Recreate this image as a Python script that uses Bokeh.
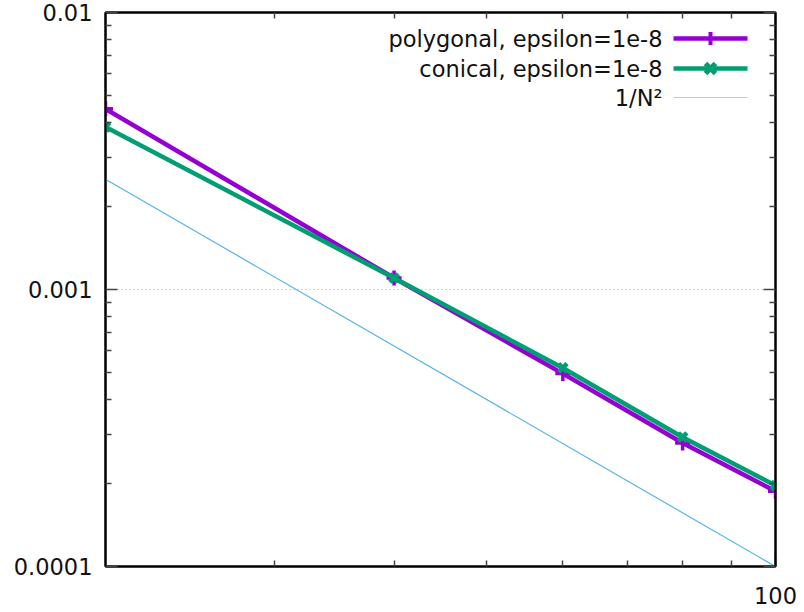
from bokeh.plotting import figure
from bokeh.models import (FixedTicker, LogAxis, Label, BoxAnnotation, PolyAnnotation, Range1d)
from bokeh.embed import file_html
from bokeh.resources import INLINE

# ---- data ----
N = [20, 40, 60, 80, 100]
polygonal = [0.00449, 0.00110, 0.000497, 0.000279, 0.000187]
conical = [0.00386, 0.00110, 0.000521, 0.000293, 0.000196]
ref_N = [20, 100]
ref_val = [1.0 / (n * n) for n in ref_N]

series_labels = ["polygonal, epsilon=1e-8", "conical, epsilon=1e-8", "1/N²"]
series_colors = ["#9400D3", "#009E73", "#56B4E9"]

x_major = [100]
x_minor = [30, 40, 50, 60, 70, 80, 90]
x_labels = ["100"]
y_major = [0.0001, 0.001, 0.01]
y_minor = [2e-4, 3e-4, 4e-4, 5e-4, 6e-4, 7e-4, 8e-4, 9e-4,
           2e-3, 3e-3, 4e-3, 5e-3, 6e-3, 7e-3, 8e-3, 9e-3]
y_labels = ["0.0001", "0.001", "0.01"]

FONT = "DejaVu Sans"
FS = "22.5px"

p = figure(width=800, height=612, x_axis_type="log", y_axis_type="log",
           x_range=Range1d(20, 100), y_range=Range1d(0.0001, 0.01),
           output_backend="svg", toolbar_location=None,
           min_border_left=105, min_border_right=25, min_border_top=12, min_border_bottom=46)
p.outline_line_color = "black"
p.outline_line_width = 2
p.background_fill_color = "white"
p.border_fill_color = "white"

xt = FixedTicker(ticks=x_major, minor_ticks=x_minor)
yt = FixedTicker(ticks=y_major, minor_ticks=y_minor)

def style_axis(ax, show_labels):
    ax.axis_line_color = "black"
    ax.axis_line_width = 2
    ax.major_tick_in = 12
    ax.major_tick_out = 0
    ax.minor_tick_in = 6
    ax.minor_tick_out = 0
    ax.major_tick_line_color = "#444444"
    ax.minor_tick_line_color = "#444444"
    ax.major_tick_line_width = 1.5
    ax.minor_tick_line_width = 1.5
    ax.major_label_text_font = FONT
    ax.major_label_text_color = "#111111"
    if show_labels:
        ax.major_label_text_font_size = FS
    else:
        ax.major_label_text_font_size = "0px"
        ax.major_label_standoff = 0

xa = p.xaxis[0]
xa.ticker = xt
xa.major_label_overrides = dict(zip(x_major, x_labels))
style_axis(xa, True)
xa.major_label_standoff = 20

ya = p.yaxis[0]
ya.ticker = yt
ya.major_label_overrides = dict(zip(y_major, y_labels))
style_axis(ya, True)
ya.major_label_standoff = 13

top = LogAxis(ticker=FixedTicker(ticks=x_major, minor_ticks=x_minor))
style_axis(top, False)
top.major_label_overrides = {v: "" for v in x_major}
p.add_layout(top, "above")
right = LogAxis(ticker=FixedTicker(ticks=y_major, minor_ticks=y_minor))
style_axis(right, False)
right.major_label_overrides = {v: "" for v in y_major}
p.add_layout(right, "right")

p.xgrid.visible = False
p.ygrid.ticker = yt
p.ygrid.grid_line_color = "#aaaaaa"
p.ygrid.grid_line_dash = "1 3"
p.ygrid.grid_line_width = 1

# series
p.line(ref_N, ref_val, line_color=series_colors[2], line_width=1.2)
p.line(N, polygonal, line_color=series_colors[0], line_width=4.5)
p.scatter(N, polygonal, marker="cross", size=15, line_color=series_colors[0], line_width=3.5)
p.line(N, conical, line_color=series_colors[1], line_width=4.5)
p.scatter(N, conical, marker="x", size=12, line_color=series_colors[1], line_width=4.5)

# manual gnuplot-style legend (screen units, relative to frame, y from bottom)
FH = 552
rows = [FH - 24, FH - 54, FH - 83]
text_right = 557
lx0, lx1, mx = 568, 642, 605
for i, (lab, col) in enumerate(zip(series_labels, series_colors)):
    p.add_layout(Label(x=text_right, y=rows[i], x_units="screen", y_units="screen",
                       text=lab, text_align="right", text_baseline="middle",
                       text_font=FONT, text_font_size=FS, text_color="#111111"))
    lw = 4.5 if i < 2 else 1.2
    p.add_layout(BoxAnnotation(left=lx0, right=lx1, bottom=rows[i] - lw / 2, top=rows[i] + lw / 2,
                               left_units="screen", right_units="screen",
                               bottom_units="screen", top_units="screen",
                               fill_color=col, fill_alpha=1 if i < 2 else 0.6, line_alpha=0))

# '+' marker in legend
p.add_layout(BoxAnnotation(left=mx - 2, right=mx + 2, bottom=rows[0] - 6.5, top=rows[0] + 6.5,
                           left_units="screen", right_units="screen",
                           bottom_units="screen", top_units="screen",
                           fill_color=series_colors[0], fill_alpha=1, line_alpha=0))
# 'x' marker in legend
h, d = 5, 1.8
cy = rows[1]
for s in (1, -1):
    xs = [mx - h - d, mx - h + d, mx + h + d, mx + h - d]
    ys = [cy - s * h + s * d, cy - s * h - s * d, cy + s * h - s * d, cy + s * h + s * d]
    p.add_layout(PolyAnnotation(xs=xs, ys=ys, xs_units="screen", ys_units="screen",
                                fill_color=series_colors[1], fill_alpha=1, line_alpha=0))

open("out.html", "w").write(file_html(p, INLINE))
